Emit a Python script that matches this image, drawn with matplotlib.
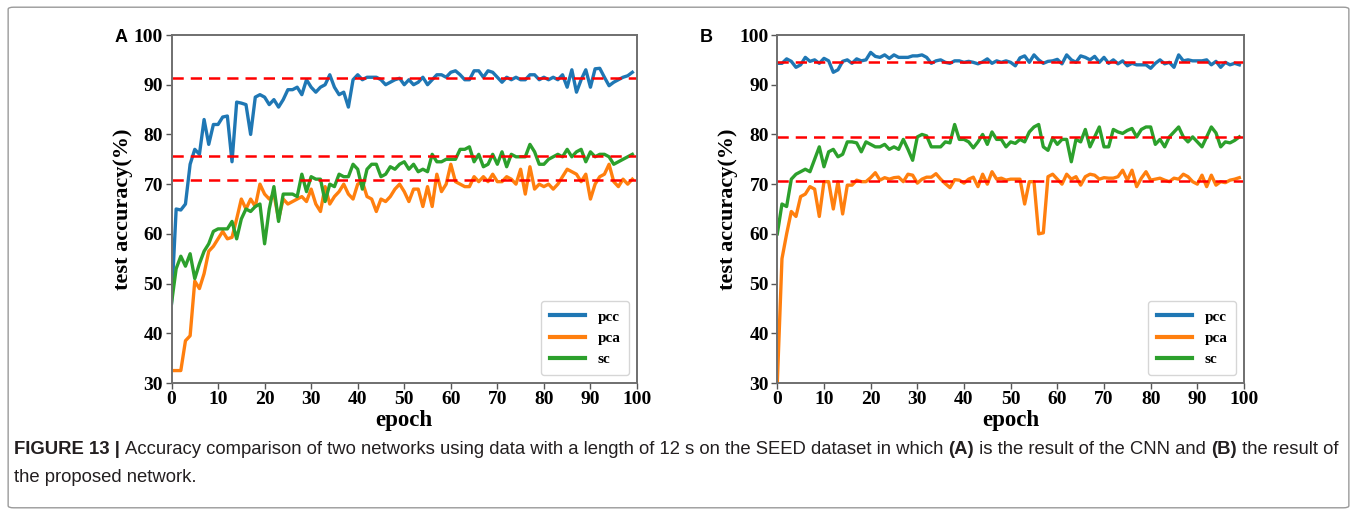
import matplotlib
matplotlib.use('Agg')
import matplotlib.pyplot as plt
from matplotlib.patches import FancyBboxPatch
import numpy as np

# epochs 0..99
epochs = np.arange(100)

# (A) CNN
a_pcc = [46, 65, 64.8, 66, 74, 77, 76, 83, 78, 82,
         82, 83.5, 83.7, 74.5, 86.5, 86.3, 86, 80, 87.5, 88,
         87.5, 86, 87, 85.5, 87, 89, 89, 89.5, 88, 91,
         89.5, 88.5, 89.5, 90, 92, 89.5, 88, 88.5, 85.5, 91,
         92, 91, 91.5, 91.5, 91.5, 91, 90, 90.5, 91, 91.3,
         90, 91, 90, 90.5, 91.5, 90, 91, 92, 92, 91.5,
         92.5, 92.8, 92, 91, 91, 92.8, 92.8, 91.5, 92.8, 92.5,
         91.5, 90.5, 91.5, 91, 91.5, 91, 91, 92, 92, 91,
         91.5, 91, 91.5, 91, 92, 89.5, 93, 88.5, 91, 93,
         89.5, 93.2, 93.3, 91.5, 89.8, 90.5, 91, 91.5, 91.8, 92.5]
a_pca = [32.5, 32.5, 32.5, 38.5, 39.5, 50.5, 49, 52, 56.5, 57.5,
         59, 60.5, 59, 59.3, 63, 67, 65, 67, 65.5, 70,
         68, 67, 68, 63, 67, 66, 66.5, 67, 67.5, 66.5,
         69, 66, 64.5, 69.5, 66, 67.5, 68.5, 70, 68, 67,
         70, 70.5, 67.5, 67, 64.5, 67, 66.5, 67.5, 69, 70,
         68.5, 66.5, 69, 69, 65.5, 69.5, 65.5, 72, 68.5, 70,
         74, 70.5, 70, 69.5, 69.5, 71.5, 70.5, 71.5, 70.5, 72,
         70.5, 70.5, 71.5, 71, 70, 73, 68, 73.5, 69, 70,
         69.5, 70, 69, 70, 71.5, 73, 72.5, 72, 70.5, 72,
         67, 70, 71.5, 72, 74, 70.5, 69.5, 71, 70, 71]
a_sc = [46, 53, 55.5, 53.5, 56, 51, 54, 56.5, 58, 60.5,
        61, 61, 61, 62.5, 59, 63, 65, 64.5, 65.5, 66,
        58, 65, 69.5, 62.5, 68, 68, 68, 67.5, 72, 68.5,
        71.5, 71, 71, 66.5, 70, 69.5, 72, 71.5, 71.5, 74,
        73, 69, 73, 74, 74, 71.5, 72, 73.5, 73, 74,
        74.5, 73, 74, 72.5, 73, 72.5, 76, 74.5, 74.5, 75,
        75, 75, 77, 77, 77.5, 74.5, 76, 73.5, 74, 76,
        74, 76.5, 73.5, 76, 75.5, 75.5, 75.5, 78, 76.5, 74,
        74, 75, 75.5, 76, 75.5, 77, 75.5, 76.5, 77, 74.5,
        76.5, 75.5, 76, 76, 75.5, 74, 74.5, 75, 75.5, 76]
a_ref = [91.3, 75.7, 70.8]

# (B) proposed network
b_pcc = [94.3, 94.3, 95.2, 94.7, 93.5, 94, 95.5, 94.7, 95, 94.3,
         95.3, 94.8, 92.5, 93, 94.7, 95, 94.3, 95.2, 94.8, 95,
         96.5, 95.7, 95.5, 96, 95.3, 96, 95.5, 95.5, 95.5, 95.8,
         95.8, 96, 95.5, 94.3, 94.8, 95, 94.5, 94.3, 94.8, 94.8,
         94.5, 94.7, 94.5, 94.2, 94.6, 95.2, 94.3, 94.8, 94.5, 94.8,
         94.5, 93.8, 95.4, 95.8, 94.5, 96, 95, 94.3, 94.7, 94.8,
         95.1, 94.2, 96, 95, 94.5, 95.8, 95.5, 95, 95.7, 94.5,
         95.5, 94.3, 95, 94.2, 94.8, 93.8, 94.3, 94, 94, 94,
         93.3, 94.3, 95, 94.2, 94.5, 93.5, 96, 94.8, 95, 94.8,
         94.8, 94.8, 95, 94, 94.7, 93.5, 94.5, 94, 94.3, 94]
b_pca = [30, 55, 60, 64.5, 63.5, 67.5, 68, 69.5, 69, 63.5,
         70.5, 70.5, 65, 70.5, 64, 69.8, 69.8, 70.8, 70.5, 70.5,
         71.3, 72.3, 70.8, 71.3, 71, 71.3, 71.4, 70.5, 72, 71.8,
         70.2, 71, 71.4, 71.4, 72.1, 71, 70.1, 69.3, 70.9, 70.8,
         70.2, 71, 71.4, 69.5, 72, 70, 72.5, 71, 71.2, 70.8,
         71, 71, 71, 66, 70.5, 70.5, 60, 60.2, 71.5, 72,
         71, 70, 72, 71, 71.5, 69.8, 71.5, 72, 71.8, 71,
         71.3, 71.2, 71.2, 71.5, 72.8, 70.8, 72.8, 69.5, 71.2, 72.5,
         70.8, 71, 71.2, 70.8, 70.5, 71.2, 71, 72, 71.5, 70.5,
         70, 71.8, 69.5, 71.8, 69.8, 70.5, 70.3, 70.8, 71, 71.3]
b_sc = [60, 66, 65.5, 71, 72, 72.5, 73, 72.5, 75, 77.5,
        73.5, 76.5, 77, 75.5, 76, 78.5, 78.5, 78.3, 76.5, 78.5,
        78, 77.5, 77.5, 78, 77, 77.5, 77, 79, 77, 74.8,
        79.5, 80, 79.7, 77.5, 77.5, 77.5, 78.5, 78.3, 82, 79,
        79, 78.5, 77.3, 78.5, 80, 78, 80.5, 79, 79, 77.5,
        78.5, 78.2, 79, 78.5, 80.5, 81.5, 82, 77.5, 76.8, 79.3,
        78, 79, 79, 74.5, 79, 78.5, 81, 77.5, 79.5, 81.5,
        77.5, 77.5, 81, 80.5, 80.2, 80.8, 81.2, 79.5, 81, 81.5,
        81.5, 78, 79, 77.5, 79.5, 80.5, 81.5, 79.5, 78.5, 79.5,
        78.5, 77.5, 79.5, 81.5, 80.3, 77.5, 78.5, 78.3, 78.8, 79.5]
b_ref = [94.6, 79.4, 70.7]

labels = ['pcc', 'pca', 'sc']
colors = ['#1f77b4', '#ff7f0e', '#2ca02c']

serif = 'Liberation Serif'
fig = plt.figure(figsize=(13.57, 5.15), dpi=100)

# light frame around the whole figure
fig.patches.append(FancyBboxPatch((0.006, 0.014), 0.988, 0.972,
                                  boxstyle='round,pad=0,rounding_size=0.004',
                                  transform=fig.transFigure, fill=False,
                                  edgecolor='#9a9a9a', linewidth=1.0))

W, H = 1357.0, 515.0
panels = [
    ('A', 171.5, 637, 115, (a_pcc, a_pca, a_sc), a_ref),
    ('B', 777.3, 1244, 700, (b_pcc, b_pca, b_sc), b_ref),
]

for name, x0, x1, lx, series, refs in panels:
    ax = fig.add_axes([x0 / W, 1 - 383 / H, (x1 - x0) / W, (383 - 35) / H])
    for y, lab, c in zip(series, labels, colors):
        ax.plot(epochs, y, color=c, linewidth=2.4, label=lab)
    for r in refs:
        ax.axhline(r, color='red', linestyle=(0, (4.5, 2.8)), linewidth=1.8)
    ax.set_xlim(0, 100)
    ax.set_ylim(30, 100)
    ax.set_xticks(range(0, 101, 10))
    ax.set_yticks(range(30, 101, 10))
    for sp in ax.spines.values():
        sp.set_color('#6f6f6f')
        sp.set_linewidth(1.4)
    ax.tick_params(direction='out', length=4, width=1, color='#555555', pad=2)
    for t in ax.get_xticklabels() + ax.get_yticklabels():
        t.set_fontfamily(serif)
        t.set_fontweight('bold')
        t.set_fontsize(14)
    ax.set_xlabel('epoch', fontfamily=serif, fontweight='bold', fontsize=16.5, labelpad=1)
    ax.set_ylabel('test accuracy(%)', fontfamily=serif, fontweight='bold', fontsize=16, labelpad=1)
    leg = ax.legend(loc='lower right', prop={'family': serif, 'weight': 'bold', 'size': 11},
                    handlelength=2.3, borderpad=0.6, labelspacing=0.5, handletextpad=0.8,
                    borderaxespad=0.5)
    leg.get_frame().set_edgecolor('#cccccc')
    for ln in leg.get_lines():
        ln.set_linewidth(3)
    fig.text(lx / W, 1 - 37 / H, name, fontfamily='Liberation Sans', fontweight='bold',
             fontsize=13, ha='left', va='center')

# caption with bold runs
cap_font = 'Liberation Sans'
cap_size = 13.3
lines = [
    [('FIGURE 13 | ', 'bold'),
     ('Accuracy comparison of two networks using data with a length of 12 s on the SEED dataset in which ', 'normal'),
     ('(A)', 'bold'), (' is the result of the CNN and ', 'normal'), ('(B)', 'bold'), (' the result of', 'normal')],
    [('the proposed network.', 'normal')],
]
renderer = fig.canvas.get_renderer()
ys = [1 - 450 / H, 1 - 477 / H]
for runs, yy in zip(lines, ys):
    x = 14 / W
    for s, w in runs:
        t = fig.text(x, yy, s, fontfamily=cap_font, fontweight=w, fontsize=cap_size,
                     color='#231f20', ha='left', va='center')
        bb = t.get_window_extent(renderer=renderer)
        x += bb.width / fig.bbox.width

fig.savefig('out.png', dpi=100)
